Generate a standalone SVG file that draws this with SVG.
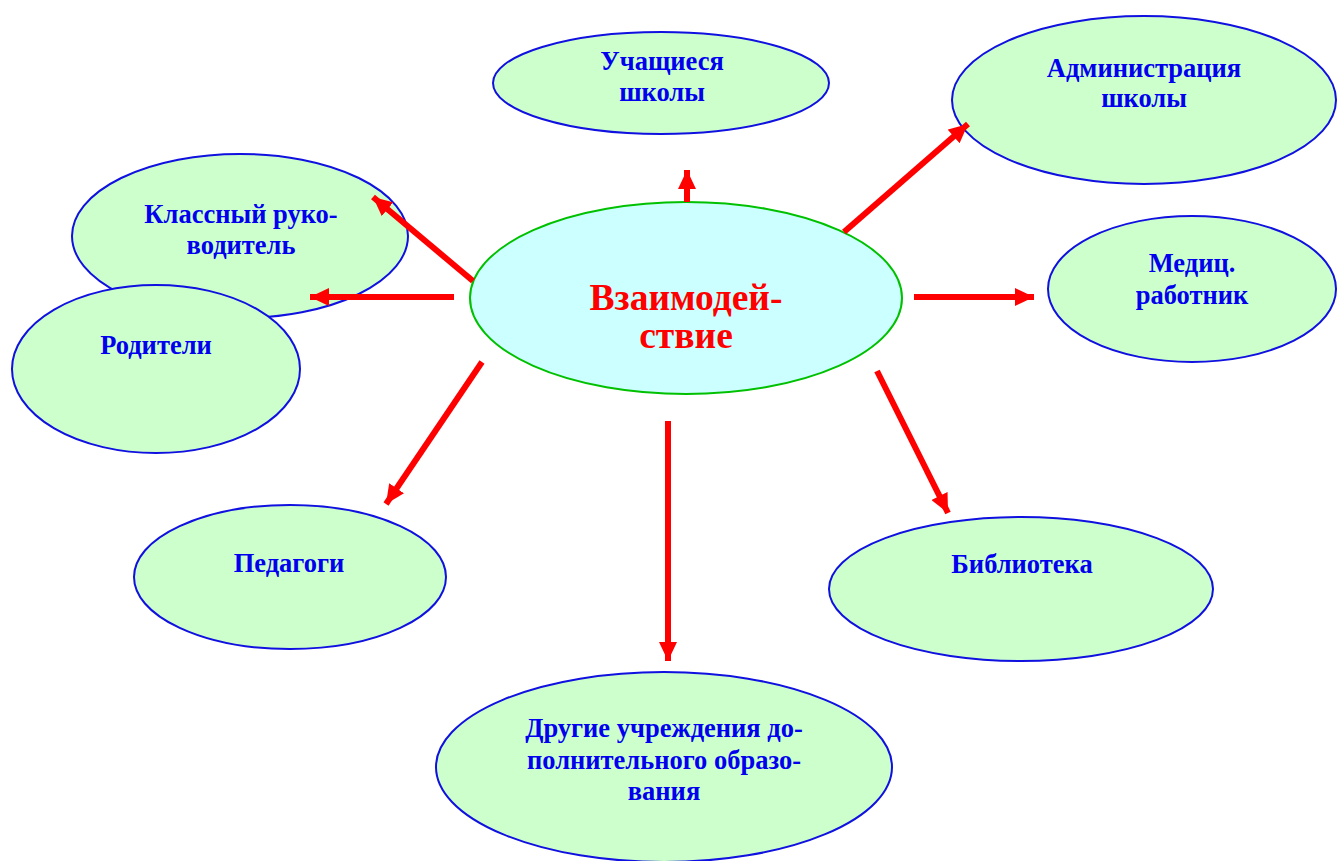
<svg xmlns="http://www.w3.org/2000/svg" width="1337" height="861" viewBox="0 0 1337 861">
<style>
.node{fill:#ccffcc;stroke:#1010e0;stroke-width:2}
.center{fill:#ccffff;stroke:#00c000;stroke-width:2}
.lbl{font-family:"Liberation Serif","Times New Roman",serif;font-weight:bold;font-size:26.5px;fill:#0000ee;text-anchor:middle}
.clbl{font-family:"Liberation Serif","Times New Roman",serif;font-weight:bold;font-size:37.5px;fill:#ff0000;text-anchor:middle}
.arr{stroke:#ff0000;stroke-width:6;fill:none;marker-end:url(#ah)}
</style>
<defs>
<marker id="ah" markerUnits="userSpaceOnUse" markerWidth="19" markerHeight="18" refX="19" refY="9" orient="auto">
<path d="M0,0 L19,9 L0,18 z" fill="#ff0000"/>
</marker>
</defs>
<rect width="1337" height="861" fill="#ffffff"/>
<g id="node-uchashiesya">
<ellipse class="node" cx="661" cy="83" rx="168" ry="51"/>
<text class="lbl" x="662" y="70">Учащиеся</text>
<text class="lbl" x="662" y="101">школы</text>
</g>
<g id="node-administraciya">
<ellipse class="node" cx="1144" cy="100" rx="192" ry="84"/>
<text class="lbl" x="1144" y="77">Администрация</text>
<text class="lbl" x="1144" y="107">школы</text>
</g>
<g id="node-medic">
<ellipse class="node" cx="1192" cy="289" rx="144" ry="73"/>
<text class="lbl" x="1192" y="272">Медиц.</text>
<text class="lbl" x="1192" y="304">работник</text>
</g>
<g id="node-klassny">
<ellipse class="node" cx="240" cy="236" rx="168" ry="82"/>
<text class="lbl" x="241" y="223">Классный руко-</text>
<text class="lbl" x="241" y="254">водитель</text>
</g>
<g id="node-roditeli">
<ellipse class="node" cx="156" cy="369" rx="144" ry="84"/>
<text class="lbl" x="156" y="354">Родители</text>
</g>
<g id="node-pedagogi">
<ellipse class="node" cx="290" cy="577" rx="156" ry="72"/>
<text class="lbl" x="289" y="572">Педагоги</text>
</g>
<g id="node-biblioteka">
<ellipse class="node" cx="1021" cy="589" rx="192" ry="72"/>
<text class="lbl" x="1022" y="573">Библиотека</text>
</g>
<g id="node-drugie">
<ellipse class="node" cx="664" cy="767" rx="228" ry="95"/>
<text class="lbl" x="664" y="737">Другие учреждения до-</text>
<text class="lbl" x="664" y="769">полнительного образо-</text>
<text class="lbl" x="664" y="800">вания</text>
</g>
<g id="node-center">
<ellipse class="center" cx="686" cy="298" rx="216" ry="96"/>
<text class="clbl" x="686" y="310">Взаимодей-</text>
<text class="clbl" x="686" y="348">ствие</text>
</g>
<g id="connectors">
<line class="arr" x1="687" y1="202" x2="687" y2="170"/>
<line class="arr" x1="844" y1="232" x2="968" y2="124"/>
<line class="arr" x1="914" y1="297" x2="1034" y2="297"/>
<line class="arr" x1="877" y1="371" x2="948" y2="513"/>
<line class="arr" x1="668" y1="421" x2="668" y2="661"/>
<line class="arr" x1="482" y1="362" x2="386" y2="504"/>
<line class="arr" x1="454" y1="297" x2="310" y2="297"/>
<line class="arr" x1="473" y1="281" x2="373" y2="197"/>
</g>
</svg>
